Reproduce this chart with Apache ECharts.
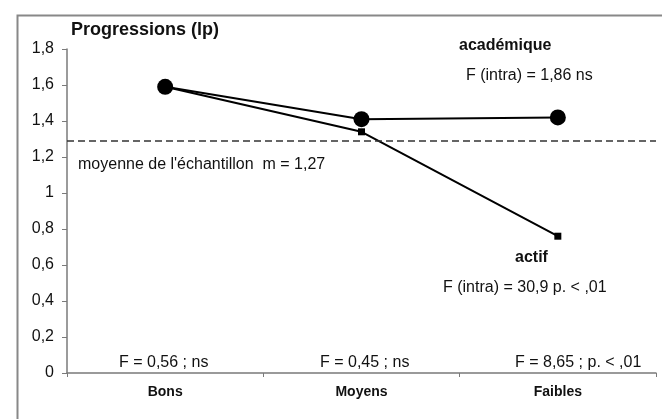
<!DOCTYPE html>
<html>
<head>
<meta charset="utf-8">
<script src="https://cdn.jsdelivr.net/npm/echarts@6/dist/echarts.min.js"></script>
<style>
html,body{margin:0;padding:0;background:#fff;}
#chart{width:662px;height:419px;}
</style>
</head>
<body>
<div id="chart"></div>
<script>
var categories = ['Bons', 'Moyens', 'Faibles'];
var academique = [1.59, 1.41, 1.42];
var actif = [1.59, 1.34, 0.76];
var sampleMean = 1.29;
var yTicks = { min: 0, max: 1.8, interval: 0.2 };
var FONT = '"Liberation Sans", Arial, Helvetica, sans-serif';

var chart = echarts.init(document.getElementById('chart'), null, { renderer: 'canvas' });

function txt(x, y, s, size, bold) {
  return {
    type: 'text', left: x, top: y - size * 0.6,
    style: { text: s, fill: '#111', font: (bold ? 'bold ' : '') + size + 'px ' + FONT }
  };
}

chart.setOption({
  animation: false,
  backgroundColor: '#fff',
  grid: { left: 67, top: 49, right: 6, bottom: 46, containLabel: false },
  xAxis: {
    type: 'category',
    data: categories,
    boundaryGap: true,
    axisLine: { lineStyle: { color: '#7a7a7a', width: 1.5 } },
    axisTick: { show: true, inside: false, length: 4, alignWithLabel: false, lineStyle: { color: '#7a7a7a' } },
    axisLabel: { margin: 12, color: '#111', fontFamily: FONT, fontSize: 14, fontWeight: 'bold' },
    splitLine: { show: false }
  },
  yAxis: {
    type: 'value',
    min: yTicks.min, max: yTicks.max, interval: yTicks.interval,
    axisLine: { show: true, lineStyle: { color: '#7a7a7a', width: 1.5 } },
    axisTick: { show: true, inside: false, length: 5, lineStyle: { color: '#7a7a7a' } },
    axisLabel: {
      margin: 13, color: '#111', fontFamily: FONT, fontSize: 16,
      formatter: function (v) { return String(Math.round(v * 10) / 10).replace('.', ','); }
    },
    splitLine: { show: false }
  },
  series: [
    {
      name: 'actif', type: 'line', data: actif,
      symbol: 'rect', symbolSize: 7,
      lineStyle: { color: '#000', width: 2 },
      itemStyle: { color: '#000' },
      z: 2,
      markLine: {
        silent: true, symbol: ['none', 'none'], label: { show: false },
        lineStyle: { color: '#333', width: 1.5, type: [7, 4] },
        data: [{ yAxis: sampleMean }]
      }
    },
    {
      name: 'académique', type: 'line', data: academique,
      symbol: 'circle', symbolSize: 16,
      lineStyle: { color: '#000', width: 2 },
      itemStyle: { color: '#000' },
      z: 3
    }
  ],
  graphic: [
    {
      type: 'rect', left: 15, top: 13, z: -1,
      shape: { width: 700, height: 450 },
      style: { fill: 'none', stroke: '#888', lineWidth: 2 }
    },
    txt(71, 32, 'Progressions (lp)', 18, true),
    txt(78, 166, "moyenne de l'échantillon  m = 1,27", 16, false),
    txt(459, 47, 'académique', 16, true),
    txt(466, 77, 'F (intra) = 1,86 ns', 16, false),
    txt(515, 259, 'actif', 16, true),
    txt(443, 289, 'F (intra) = 30,9 p. < ,01', 16, false),
    txt(119, 364, 'F = 0,56 ; ns', 16, false),
    txt(320, 364, 'F = 0,45 ; ns', 16, false),
    txt(515, 364, 'F = 8,65 ; p. < ,01', 16, false)
  ]
});
</script>
</body>
</html>
